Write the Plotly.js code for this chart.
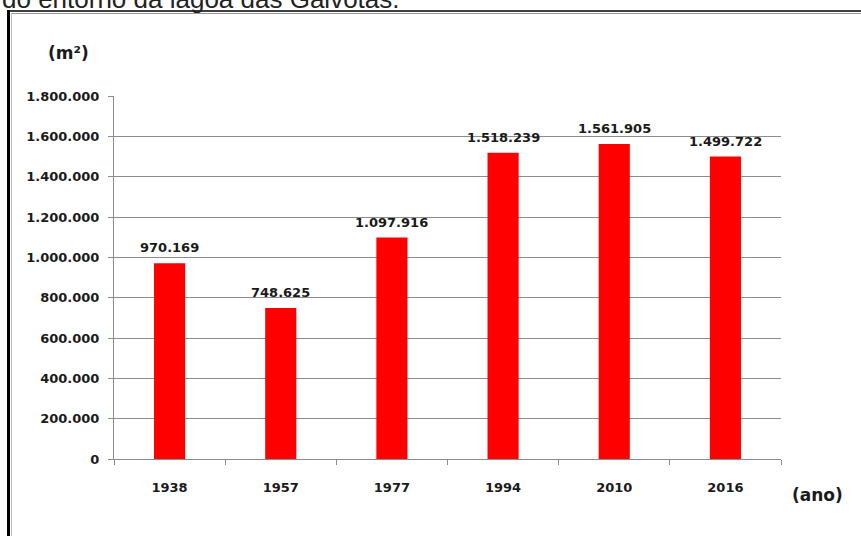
<!DOCTYPE html>
<html>
<head>
<meta charset="utf-8">
<script src="https://cdn.plot.ly/plotly-3.0.1.min.js"></script>
<style>
  html, body { margin: 0; padding: 0; background: #ffffff; }
  #chart { width: 861px; height: 536px; }
</style>
</head>
<body>
<div id="chart"></div>
<script>
// ---- data ----
const years = ["1938", "1957", "1977", "1994", "2010", "2016"];
const areas = [970169, 748625, 1097916, 1518239, 1561905, 1499722];
const valueLabels = ["970.169", "748.625", "1.097.916", "1.518.239", "1.561.905", "1.499.722"];
const yTickVals = [0, 200000, 400000, 600000, 800000, 1000000, 1200000, 1400000, 1600000, 1800000];
const yTickText = ["0", "200.000", "400.000", "600.000", "800.000", "1.000.000", "1.200.000", "1.400.000", "1.600.000", "1.800.000"];
const yUnit = "(m²)";
const xUnit = "(ano)";
const captionText = "do entorno da lagoa das Gaivotas.";

// ---- layout geometry (pixels) ----
const W = 861, H = 536;
const L = 114, R = 781, T = 96, B = 459;
const px = x => (x - L) / (R - L);
const py = y => (B - y) / (B - T);

const labelFont = { family: "DejaVu Sans", size: 13, color: "#1a1a1a", weight: "bold" };

const trace = {
  type: "bar",
  x: years,
  y: areas,
  marker: { color: "#ff0000", line: { width: 0 } },
  hoverinfo: "skip"
};

// value labels above the bars (x given as category index)
const annotations = years.map((yr, i) => ({
  x: i, y: areas[i], xref: "x", yref: "y",
  text: "<b>" + valueLabels[i] + "</b>",
  showarrow: false, yanchor: "bottom", yshift: 6,
  font: { family: "DejaVu Sans", size: 13, color: "#1a1a1a" }
}));

annotations.push({
  x: px(68), y: py(53), xref: "paper", yref: "paper",
  text: "<b>" + yUnit + "</b>", showarrow: false,
  xanchor: "center", yanchor: "middle",
  font: { family: "DejaVu Sans", size: 17, color: "#1a1a1a" }
});
annotations.push({
  x: px(817), y: py(495), xref: "paper", yref: "paper",
  text: "<b>" + xUnit + "</b>", showarrow: false,
  xanchor: "center", yanchor: "middle",
  font: { family: "DejaVu Sans", size: 17, color: "#1a1a1a" }
});
annotations.push({
  x: px(0), y: py(-1), xref: "paper", yref: "paper",
  text: captionText, showarrow: false,
  xanchor: "left", yanchor: "middle",
  font: { family: "Liberation Sans", size: 26, color: "#222222" }
});

const shapes = [
  // thick left frame
  { type: "line", xref: "paper", yref: "paper", x0: px(8.5), x1: px(8.5), y0: py(10), y1: py(H + 5),
    line: { color: "#000000", width: 3 } },
  // top frame
  { type: "line", xref: "paper", yref: "paper", x0: px(7), x1: px(W + 5), y0: py(11), y1: py(11),
    line: { color: "#000000", width: 1.5 } },
  // inner gray frame lines
  { type: "line", xref: "paper", yref: "paper", x0: px(11), x1: px(W + 5), y0: py(13.5), y1: py(13.5),
    line: { color: "#9a9a9a", width: 1 } },
  { type: "line", xref: "paper", yref: "paper", x0: px(11.5), x1: px(11.5), y0: py(13), y1: py(H + 5),
    line: { color: "#bdbdbd", width: 1 } }
];

const layout = {
  width: W, height: H,
  margin: { l: L, r: W - R, t: T, b: H - B, pad: 0 },
  paper_bgcolor: "#ffffff",
  plot_bgcolor: "#ffffff",
  showlegend: false,
  bargap: 0.72,
  xaxis: {
    type: "category",
    categoryorder: "array",
    categoryarray: years,
    range: [-0.5, years.length - 0.5],
    autorange: false,
    showline: true, linecolor: "#8c8c8c", linewidth: 1,
    ticks: "outside", tickson: "boundaries", ticklen: 5, tickcolor: "#8c8c8c", tickwidth: 1,
    showgrid: false, zeroline: false,
    tickfont: labelFont,
    tickangle: 0,
    ticklabelstandoff: 16,
    fixedrange: true
  },
  yaxis: {
    range: [0, 1800000],
    autorange: false,
    tickvals: yTickVals,
    ticktext: yTickText,
    showline: true, linecolor: "#8c8c8c", linewidth: 1,
    ticks: "outside", ticklen: 5, tickcolor: "#8c8c8c", tickwidth: 1,
    showgrid: true, gridcolor: "#8c8c8c", gridwidth: 1,
    zeroline: false,
    tickfont: labelFont,
    ticklabelstandoff: 6,
    fixedrange: true
  },
  annotations: annotations,
  shapes: shapes
};

Plotly.newPlot("chart", [trace], layout, { displayModeBar: false, staticPlot: true });
</script>
</body>
</html>
